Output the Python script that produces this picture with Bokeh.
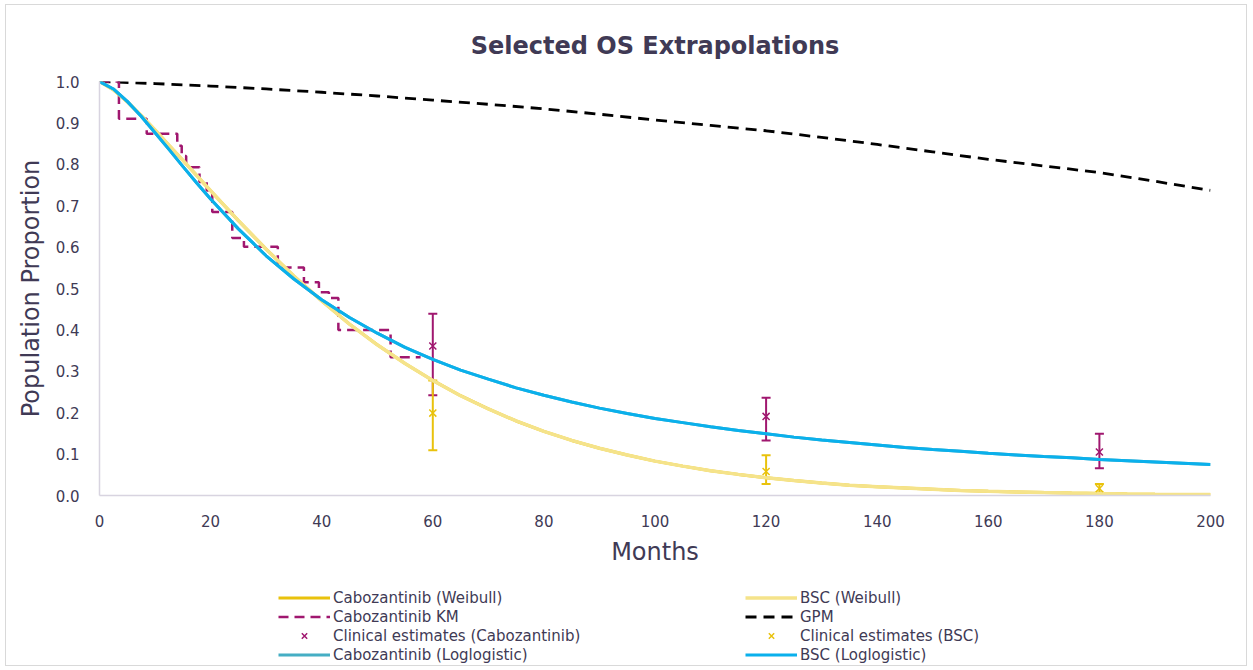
from bokeh.plotting import figure
from bokeh.layouts import column
from bokeh.models import ColumnDataSource, Legend, LegendItem, Whisker, TeeHead, FixedTicker, Range1d
from bokeh.embed import file_html
from bokeh.resources import INLINE

# ---------------- data ----------------
curve_months = [0, 2.5, 5, 7.5, 10, 12.5, 15, 17.5, 20, 25, 30, 35, 40, 45, 50, 55, 60,
                65, 70, 75, 80, 85, 90, 95, 100, 105, 110, 115, 120, 125, 130, 135, 140,
                145, 150, 155, 160, 165, 170, 175, 180, 185, 190, 195, 200]
cabo_weibull = [1.0, 0.980, 0.951, 0.918, 0.883, 0.846, 0.810, 0.773, 0.736, 0.664, 0.595,
                0.530, 0.470, 0.414, 0.364, 0.319, 0.278, 0.241, 0.209, 0.180, 0.155,
                0.133, 0.114, 0.098, 0.083, 0.071, 0.060, 0.051, 0.043, 0.036, 0.030,
                0.025, 0.021, 0.018, 0.015, 0.012, 0.010, 0.0085, 0.0070, 0.0058, 0.0048,
                0.0039, 0.0032, 0.0027, 0.0022]
bsc_weibull = list(cabo_weibull)
cabo_loglogistic = [1.0, 0.982, 0.952, 0.916, 0.876, 0.836, 0.795, 0.755, 0.716, 0.644, 0.579,
                    0.523, 0.473, 0.430, 0.392, 0.358, 0.329, 0.303, 0.281, 0.260, 0.242,
                    0.226, 0.211, 0.198, 0.186, 0.176, 0.166, 0.157, 0.149, 0.141, 0.134,
                    0.128, 0.122, 0.116, 0.111, 0.107, 0.102, 0.098, 0.094, 0.091, 0.087,
                    0.084, 0.081, 0.078, 0.075]
bsc_loglogistic = list(cabo_loglogistic)

gpm_months = list(range(0, 201, 10))
gpm = [1.0, 0.995, 0.989, 0.982, 0.974, 0.965, 0.955, 0.945, 0.934, 0.921, 0.907,
       0.894, 0.881, 0.865, 0.848, 0.830, 0.812, 0.796, 0.780, 0.759, 0.737]

km_months = [0, 3.5, 8.5, 14.0, 14.8, 15.6, 18.0, 19.3, 20.3, 23.9, 26.0, 32.1,
             36.8, 39.5, 41.3, 43.0, 52.4, 57.8]
km_surv = [1.0, 0.91, 0.874, 0.845, 0.82, 0.793, 0.757, 0.737, 0.685, 0.622, 0.601, 0.551,
           0.515, 0.491, 0.477, 0.40, 0.334, 0.334]

est_months = [60, 120, 180]
cabo_est = [0.361, 0.191, 0.105]
cabo_lo = [0.242, 0.133, 0.066]
cabo_hi = [0.439, 0.236, 0.149]
bsc_est = [0.199, 0.058, 0.017]
bsc_lo = [0.109, 0.028, 0.007]
bsc_hi = [0.278, 0.097, 0.028]

x_ticks = list(range(0, 201, 20))
y_ticks = [i / 10 for i in range(0, 11)]

left_labels = ["Cabozantinib (Weibull)", "Cabozantinib KM",
               "Clinical estimates (Cabozantinib)", "Cabozantinib (Loglogistic)"]
right_labels = ["BSC (Weibull)", "GPM", "Clinical estimates (BSC)", "BSC (Loglogistic)"]

# ---------------- style ----------------
FONT = "DejaVu Sans"
TEXT_COL = "#403a55"
GOLD = "#e9c20c"
LIGHT_GOLD = "#f5e38a"
PURPLE = "#a0176f"
TEAL = "#45aec4"
BLUE = "#0ab0ec"
W = 1240

p = figure(width=W, height=570, output_backend="svg", toolbar_location=None,
           x_range=Range1d(0, 200), y_range=Range1d(0, 1.0),
           min_border_left=93, min_border_right=36, min_border_top=76, min_border_bottom=80,
           title="Selected OS Extrapolations")
p.outline_line_color = None
p.xgrid.grid_line_color = None
p.ygrid.grid_line_color = None
p.background_fill_color = "white"
p.border_fill_color = "white"

p.title.align = "center"
p.title.text_font = FONT
p.title.text_font_size = "24px"
p.title.text_font_style = "bold"
p.title.text_color = TEXT_COL
p.title.standoff = 43

for ax in (p.xaxis[0], p.yaxis[0]):
    ax.axis_line_color = "#d8d4e0"
    ax.axis_line_width = 1.5
    ax.major_tick_line_color = None
    ax.minor_tick_line_color = None
    ax.major_label_text_font = FONT
    ax.major_label_text_font_size = "15px"
    ax.major_label_text_color = TEXT_COL
    ax.axis_label_text_font = FONT
    ax.axis_label_text_font_size = "24px"
    ax.axis_label_text_font_style = "normal"
    ax.axis_label_text_color = TEXT_COL

p.xaxis.ticker = FixedTicker(ticks=x_ticks)
p.yaxis.ticker = FixedTicker(ticks=y_ticks)
p.yaxis.major_label_overrides = {t: f"{t:.1f}" for t in y_ticks}
p.xaxis.axis_label = "Months"
p.yaxis.axis_label = "Population Proportion"
p.xaxis.major_label_standoff = 13
p.xaxis.axis_label_standoff = 8
p.yaxis.major_label_standoff = 14
p.yaxis.axis_label_standoff = 8

# ---------------- glyphs ----------------
curves = ColumnDataSource(dict(t=curve_months, cw=cabo_weibull, bw=bsc_weibull,
                               cl=cabo_loglogistic, bl=bsc_loglogistic))
gsrc = ColumnDataSource(dict(t=gpm_months, s=gpm))
ksrc = ColumnDataSource(dict(t=km_months, s=km_surv))
csrc = ColumnDataSource(dict(t=est_months, e=cabo_est, lo=cabo_lo, hi=cabo_hi))
bsrc = ColumnDataSource(dict(t=est_months, e=bsc_est, lo=bsc_lo, hi=bsc_hi))

GPM_STYLE = dict(line_color="black", line_width=2.8, line_dash="11 7")
KM_STYLE = dict(line_color=PURPLE, line_width=2.5, line_dash="10 6")
CW_STYLE = dict(line_color=GOLD, line_width=3)
BW_STYLE = dict(line_color=LIGHT_GOLD, line_width=3.5)
CL_STYLE = dict(line_color=TEAL, line_width=3)
BL_STYLE = dict(line_color=BLUE, line_width=3)
CE_STYLE = dict(marker="x", size=10, line_color=PURPLE, line_width=1.5)
BE_STYLE = dict(marker="x", size=10, line_color=GOLD, line_width=1.5)

p.line("t", "s", source=gsrc, **GPM_STYLE)
p.step("t", "s", source=ksrc, mode="after", **KM_STYLE)

for src, col in ((csrc, PURPLE), (bsrc, GOLD)):
    w = Whisker(base="t", lower="lo", upper="hi", source=src,
                line_color=col, line_width=2,
                lower_head=TeeHead(size=9, line_color=col, line_width=2),
                upper_head=TeeHead(size=9, line_color=col, line_width=2))
    p.add_layout(w)

p.line("t", "cw", source=curves, **CW_STYLE)
p.line("t", "bw", source=curves, **BW_STYLE)
p.line("t", "cl", source=curves, **CL_STYLE)
p.line("t", "bl", source=curves, **BL_STYLE)
p.scatter("t", "e", source=csrc, **CE_STYLE)
p.scatter("t", "e", source=bsrc, **BE_STYLE)

# ---------------- legend strip (separate figure below) ----------------
q = figure(width=W, height=90, output_backend="svg", toolbar_location=None,
           x_range=Range1d(0, 1), y_range=Range1d(0, 1),
           x_axis_location=None, y_axis_location=None,
           min_border_left=0, min_border_right=0, min_border_top=0, min_border_bottom=0)
q.outline_line_color = None
q.xgrid.grid_line_color = None
q.ygrid.grid_line_color = None
q.background_fill_color = "white"
q.border_fill_color = "white"

NAN = float("nan")


def proxy():
    # legend-only stand-in renderer (draws nothing itself)
    return ColumnDataSource(dict(x=[NAN], y=[NAN]))


l_cw = q.line("x", "y", source=proxy(), **CW_STYLE)
l_km = q.line("x", "y", source=proxy(), **KM_STYLE)
l_ce = q.scatter("x", "y", source=proxy(), **CE_STYLE)
l_cl = q.line("x", "y", source=proxy(), **CL_STYLE)
l_bw = q.line("x", "y", source=proxy(), **BW_STYLE)
l_gp = q.line("x", "y", source=proxy(), **GPM_STYLE)
l_be = q.scatter("x", "y", source=proxy(), **BE_STYLE)
l_bl = q.line("x", "y", source=proxy(), **BL_STYLE)


def make_legend(labels, rends, loc):
    return Legend(items=[LegendItem(label=lab, renderers=[r]) for lab, r in zip(labels, rends)],
                  location=loc, orientation="vertical",
                  glyph_width=52, glyph_height=19, label_height=19, spacing=0,
                  label_standoff=3, padding=0, margin=0,
                  border_line_color=None, background_fill_alpha=0,
                  label_text_font=FONT, label_text_font_size="15px",
                  label_text_color=TEXT_COL)


q.add_layout(make_legend(left_labels, [l_cw, l_km, l_ce, l_cl], (179, 1)))
q.add_layout(make_legend(right_labels, [l_bw, l_gp, l_be, l_bl], (646, 1)))

layout = column(p, q, spacing=0)
layout.styles = {"border": "1px solid #d9d9d9", "margin-left": "5px", "margin-top": "4px"}

open("out.html", "w").write(file_html(layout, INLINE))
